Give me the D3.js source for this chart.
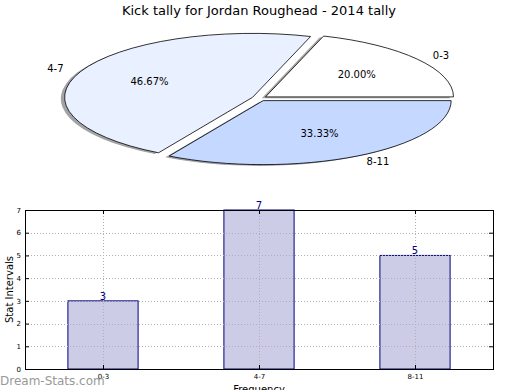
<!DOCTYPE html>
<html>
<head>
<meta charset="utf-8">
<script src="https://cdn.jsdelivr.net/npm/d3@7"></script>
<style>
  body { margin: 0; background: #fff; }
  text { font-family: "DejaVu Sans", sans-serif; }
</style>
</head>
<body>
<div id="chart"></div>
<script>
// chart data
var title = 'Kick tally for Jordan Roughead - 2014 tally';
var categories = ['0-3', '4-7', '8-11'];
var counts = [3, 7, 5];
var pieColors = ['#ffffff', '#e9f0ff', '#c5d8ff'];
var yTicks = [0, 1, 2, 3, 4, 5, 6, 7];

var width = 520;
var height = 390;

var svg = d3
    .select('#chart')
    .append('svg')
    .attr('width', width)
    .attr('height', height);

// title
svg.append('text')
    .attr('x', 259)
    .attr('y', 15)
    .attr('text-anchor', 'middle')
    .style('font-size', '13px')
    .text(title);

// ---- pie (matplotlib style: ccw from 3 o'clock, squashed to an ellipse)
var cx = 259.4, cy = 98.4, sx = 188, sy = 64;
var explode = 0.04;
var total = d3.sum(counts);

var pie = d3.pie()
    .sort(null)
    .startAngle(Math.PI / 2)
    .endAngle(Math.PI / 2 - 2 * Math.PI);
var arcs = pie(counts);
var arc = d3.arc().innerRadius(0).outerRadius(1);

function midDir(d) {
    var m = (d.startAngle + d.endAngle) / 2;
    return [Math.sin(m), -Math.cos(m)];
}

var pieGroup = svg.append('g');

// shadows first, all behind the wedges
pieGroup.selectAll('.shadow')
    .data(arcs)
    .enter()
    .append('path')
    .attr('class', 'shadow')
    .attr('d', arc)
    .attr('transform', function(d) {
        var v = midDir(d);
        var px = cx + v[0] * explode * sx - 0.02 * sx;
        var py = cy + v[1] * explode * sy + 0.02 * sy;
        return 'translate(' + px + ',' + py + ') scale(' + sx + ',' + sy + ')';
    })
    .style('fill', function(d, i) {
        var c = d3.rgb(pieColors[i]);
        return d3.rgb(c.r * 0.3, c.g * 0.3, c.b * 0.3).toString();
    })
    .style('opacity', 0.5)
    .style('stroke', 'none');

pieGroup.selectAll('.wedge')
    .data(arcs)
    .enter()
    .append('path')
    .attr('class', 'wedge')
    .attr('d', arc)
    .attr('transform', function(d) {
        var v = midDir(d);
        var px = cx + v[0] * explode * sx;
        var py = cy + v[1] * explode * sy;
        return 'translate(' + px + ',' + py + ') scale(' + sx + ',' + sy + ')';
    })
    .style('fill', function(d, i) { return pieColors[i]; })
    .style('stroke', '#000')
    .style('stroke-width', 0.8)
    .attr('vector-effect', 'non-scaling-stroke');

// category labels at 1.1 radius
pieGroup.selectAll('.pie-label')
    .data(arcs)
    .enter()
    .append('text')
    .attr('class', 'pie-label')
    .attr('x', function(d) {
        var v = midDir(d);
        return cx + v[0] * (explode + 1.1) * sx;
    })
    .attr('y', function(d) {
        var v = midDir(d);
        return cy + v[1] * (explode + 1.1) * sy;
    })
    .attr('dy', '0.35em')
    .attr('text-anchor', function(d) {
        return midDir(d)[0] > 0 ? 'start' : 'end';
    })
    .style('font-size', '10px')
    .text(function(d, i) { return categories[i]; });

// percentages at 0.6 radius
pieGroup.selectAll('.pct-label')
    .data(arcs)
    .enter()
    .append('text')
    .attr('class', 'pct-label')
    .attr('x', function(d) {
        var v = midDir(d);
        return cx + v[0] * (explode + 0.6) * sx;
    })
    .attr('y', function(d) {
        var v = midDir(d);
        return cy + v[1] * (explode + 0.6) * sy;
    })
    .attr('dy', '0.35em')
    .attr('text-anchor', 'middle')
    .style('font-size', '10px')
    .text(function(d) { return (d.value / total * 100).toFixed(2) + '%'; });

// ---- bar chart
var plotLeft = 25, plotRight = 493, plotTop = 210, plotBottom = 369;

var x = d3.scalePoint()
    .domain(categories)
    .range([plotLeft, plotRight])
    .padding(0.5);
var barWidth = x.step() * 0.45;

var y = d3.scaleLinear()
    .domain([0, 7])
    .range([plotBottom, plotTop]);

var barGroup = svg.append('g');

barGroup.selectAll('.bar')
    .data(counts)
    .enter()
    .append('rect')
    .attr('class', 'bar')
    .attr('x', function(d, i) { return x(categories[i]) - barWidth / 2; })
    .attr('y', function(d) { return y(d); })
    .attr('width', barWidth)
    .attr('height', function(d) { return y(0) - y(d); })
    .style('fill', '#ccccE6')
    .style('stroke', '#000080')
    .style('stroke-width', 1);

// dotted grid over the bars
barGroup.selectAll('.hgrid')
    .data(yTicks.slice(1, -1))
    .enter()
    .append('line')
    .attr('x1', plotLeft)
    .attr('x2', plotRight)
    .attr('y1', function(d) { return Math.round(y(d)) + 0.5; })
    .attr('y2', function(d) { return Math.round(y(d)) + 0.5; })
    .style('stroke', '#b0b0b0')
    .style('stroke-dasharray', '1,2');

barGroup.selectAll('.vgrid')
    .data(categories)
    .enter()
    .append('line')
    .attr('x1', function(d) { return x(d) + 0.5; })
    .attr('x2', function(d) { return x(d) + 0.5; })
    .attr('y1', plotTop)
    .attr('y2', plotBottom)
    .style('stroke', '#b0b0b0')
    .style('stroke-dasharray', '1,2');

// value labels
barGroup.selectAll('.value')
    .data(counts)
    .enter()
    .append('text')
    .attr('x', function(d, i) { return x(categories[i]); })
    .attr('y', function(d) { return y(d) - 1; })
    .attr('text-anchor', 'middle')
    .style('font-size', '10px')
    .style('fill', '#000080')
    .text(function(d) { return d; });

// axes with inward ticks on all four sides
svg.append('g')
    .attr('transform', 'translate(' + plotLeft + ',0)')
    .call(d3.axisLeft(y).tickValues(yTicks).tickFormat(d3.format('d')).tickSize(-4).tickPadding(4))
    .call(function(g) { g.select('.domain').remove(); });

svg.append('g')
    .attr('transform', 'translate(' + plotRight + ',0)')
    .call(d3.axisRight(y).tickValues(yTicks).tickSize(-4).tickFormat(''))
    .call(function(g) { g.select('.domain').remove(); });

svg.append('g')
    .attr('transform', 'translate(0,' + plotBottom + ')')
    .call(d3.axisBottom(x).tickSize(-4).tickPadding(5))
    .call(function(g) { g.select('.domain').remove(); });

svg.append('g')
    .attr('transform', 'translate(0,' + plotTop + ')')
    .call(d3.axisTop(x).tickSize(-4).tickFormat(''))
    .call(function(g) { g.select('.domain').remove(); });

svg.selectAll('.tick line').style('stroke', '#000');
svg.selectAll('.tick text')
    .style('font-size', '7px')
    .style('font-family', '"DejaVu Sans", sans-serif');

// frame
svg.append('rect')
    .attr('x', plotLeft + 0.5)
    .attr('y', plotTop + 0.5)
    .attr('width', plotRight - plotLeft)
    .attr('height', plotBottom - plotTop)
    .style('fill', 'none')
    .style('stroke', '#000')
    .style('stroke-width', 1);

// axis titles
svg.append('text')
    .attr('transform', 'translate(13,' + ((plotTop + plotBottom) / 2) + ') rotate(-90)')
    .attr('text-anchor', 'middle')
    .style('font-size', '10px')
    .text('Stat Intervals');

svg.append('text')
    .attr('x', (plotLeft + plotRight) / 2)
    .attr('y', 393)
    .attr('text-anchor', 'middle')
    .style('font-size', '10px')
    .text('Frequency');

// watermark
svg.append('text')
    .attr('x', 0)
    .attr('y', 385)
    .style('font-size', '12px')
    .style('fill', '#999')
    .text('Dream-Stats.com');
</script>
</body>
</html>
